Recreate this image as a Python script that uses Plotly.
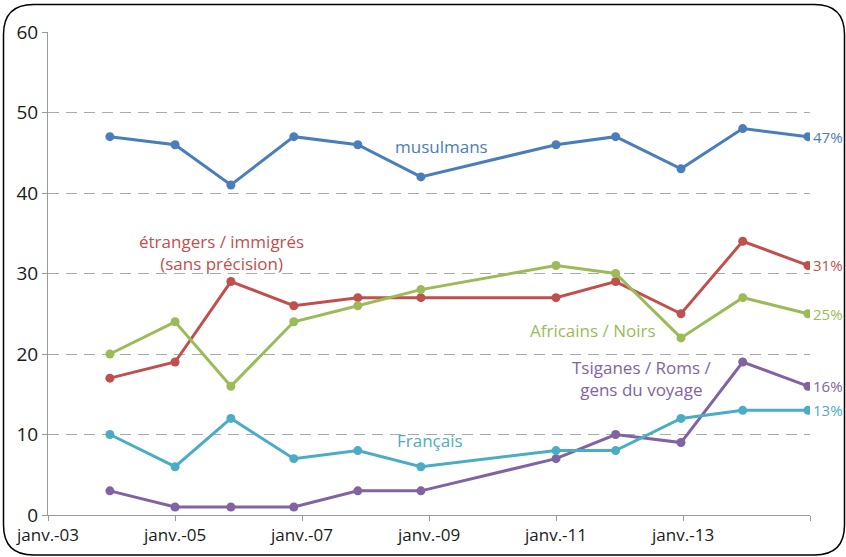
import plotly.graph_objects as go

# survey dates
dates = ["2003-12-23", "2005-01-01", "2005-11-18", "2006-11-15", "2007-11-18",
         "2008-11-15", "2011-01-01", "2011-12-10", "2012-12-20", "2013-12-10",
         "2014-12-20"]

musulmans = [47, 46, 41, 47, 46, 42, 46, 47, 43, 48, 47]
etrangers = [17, 19, 29, 26, 27, 27, 27, 29, 25, 34, 31]
africains = [20, 24, 16, 24, 26, 28, 31, 30, 22, 27, 25]
tsiganes = [3, 1, 1, 1, 3, 3, 7, 10, 9, 19, 16]
francais = [10, 6, 12, 7, 8, 6, 8, 8, 12, 13, 13]

tick_vals = ["2003-01-01", "2005-01-01", "2007-01-01", "2009-01-01",
             "2011-01-01", "2013-01-01", "2015-01-01"]
tick_text = ["janv.-03", "janv.-05", "janv.-07", "janv.-09", "janv.-11", "janv.-13", ""]

series = [
    ("musulmans", musulmans, "#4a7ebb"),
    ("étrangers / immigrés (sans précision)", etrangers, "#c0504d"),
    ("Africains / Noirs", africains, "#9bbb59"),
    ("Tsiganes / Roms / gens du voyage", tsiganes, "#8064a2"),
    ("Français", francais, "#4bacc6"),
]

# in-chart labels: text, x date, y value, colour
labels = [
    ("musulmans", "2009-03-15", 45.8, "#4a7ebb"),
    ("étrangers / immigrés<br>(sans précision)", "2005-09-27", 32.6, "#c0504d"),
    ("Africains / Noirs", "2011-08-01", 22.9, "#9bbb59"),
    ("Tsiganes / Roms /<br>gens du voyage", "2012-05-08", 16.9, "#8064a2"),
    ("Français", "2009-01-08", 9.2, "#4bacc6"),
]

FONT = "Open Sans"
W, H = 846, 557
ML, MR, MT, MB = 48, 36, 32, 42

fig = go.Figure()
for name, vals, col in series:
    fig.add_trace(go.Scatter(x=dates, y=vals, mode="lines+markers", name=name,
                             line=dict(color=col, width=3),
                             marker=dict(color=col, size=9)))
    fig.add_annotation(x=dates[-1], y=vals[-1], text=f"{vals[-1]}%", showarrow=False,
                       xanchor="left", xshift=3, font=dict(family=FONT, size=15, color=col))

for text, x, y, col in labels:
    fig.add_annotation(x=x, y=y, text=text, showarrow=False,
                       font=dict(family=FONT, size=17, color=col))

# rounded frame around the whole picture, drawn in paper coords
pw, ph = W - ML - MR, H - MT - MB
def px(x): return (x - ML) / pw
def py(y): return (H - MB - y) / ph
x0, y0, x1, y1, r = 3.5, 4.5, 844.5, 555, 30
path = (f"M {px(x0 + r)},{py(y0)} L {px(x1 - r)},{py(y0)} "
        f"Q {px(x1)},{py(y0)} {px(x1)},{py(y0 + r)} L {px(x1)},{py(y1 - r)} "
        f"Q {px(x1)},{py(y1)} {px(x1 - r)},{py(y1)} L {px(x0 + r)},{py(y1)} "
        f"Q {px(x0)},{py(y1)} {px(x0)},{py(y1 - r)} L {px(x0)},{py(y0 + r)} "
        f"Q {px(x0)},{py(y0)} {px(x0 + r)},{py(y0)} Z")
fig.add_shape(type="path", path=path, xref="paper", yref="paper",
              line=dict(color="black", width=1.5), layer="below")

fig.update_layout(
    width=W, height=H, showlegend=False,
    margin=dict(l=ML, r=MR, t=MT, b=MB),
    plot_bgcolor="white", paper_bgcolor="white",
    font=dict(family=FONT, size=16, color="#1a1a1a"),
    xaxis=dict(range=["2003-01-01", "2015-01-01"], tickvals=tick_vals, ticktext=tick_text,
               showgrid=False, zeroline=False, showline=True, linecolor="#999999",
               linewidth=1, ticks="outside", ticklen=5, tickcolor="#999999",
               tickfont=dict(size=17)),
    yaxis=dict(range=[0, 60], dtick=10, showgrid=True, gridcolor="#aaaaaa",
               griddash="11px,7px", gridwidth=1, zeroline=False, showline=True,
               linecolor="#999999", linewidth=1, ticks="outside", ticklen=5,
               tickcolor="#999999", tickfont=dict(size=19)),
)

fig.write_html("out.html", config={"displayModeBar": False},
               post_script="document.body.style.margin='0';")
